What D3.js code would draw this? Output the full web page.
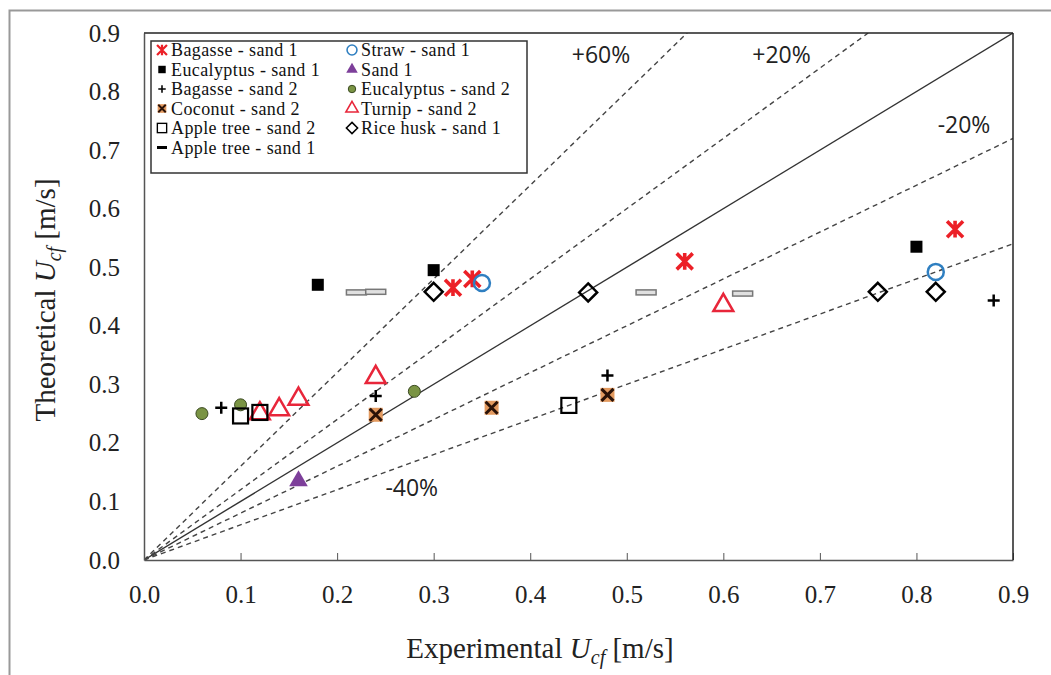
<!DOCTYPE html>
<html>
<head>
<meta charset="utf-8">
<script src="https://cdn.jsdelivr.net/npm/d3@7"></script>
<style>
  body { margin: 0; background: #fff; }
</style>
</head>
<body>
<div id="chart"></div>
<script>
// Data
const xTicks = [0, 0.1, 0.2, 0.3, 0.4, 0.5, 0.6, 0.7, 0.8, 0.9];
const yTicks = [0, 0.1, 0.2, 0.3, 0.4, 0.5, 0.6, 0.7, 0.8, 0.9];

const bagasseSand1 = [[0.32, 0.465], [0.34, 0.48], [0.56, 0.51], [0.84, 0.565]];
const strawSand1 = [[0.35, 0.473], [0.82, 0.492]];
const eucalyptusSand1 = [[0.18, 0.47], [0.30, 0.495], [0.80, 0.535]];
const sand1 = [[0.16, 0.135]];
const bagasseSand2 = [[0.08, 0.26], [0.24, 0.28], [0.48, 0.315], [0.88, 0.443]];
const eucalyptusSand2 = [[0.06, 0.25], [0.10, 0.265], [0.28, 0.288]];
const coconutSand2 = [[0.24, 0.248], [0.36, 0.26], [0.48, 0.282]];
const turnipSand2 = [[0.12, 0.25], [0.14, 0.257], [0.16, 0.275], [0.24, 0.312], [0.60, 0.435]];
const appleSand2 = [[0.10, 0.246], [0.12, 0.252], [0.44, 0.264]];
const riceHuskSand1 = [[0.30, 0.458], [0.46, 0.457], [0.76, 0.458], [0.82, 0.458]];
const appleSand1 = [[0.22, 0.457], [0.24, 0.458], [0.52, 0.457], [0.62, 0.455]];

// deviation lines: slope and label
const refSlopes = [1.6, 1.2, 1.0, 0.8, 0.6];
const refLabels = [
  { text: "+60%", x: 0.443, y: 0.848 },
  { text: "+20%", x: 0.63, y: 0.848 },
  { text: "-20%", x: 0.822, y: 0.73 },
  { text: "-40%", x: 0.25, y: 0.11 }
];

const series = [
  { name: "Bagasse - sand 1", data: bagasseSand1, type: "star" },
  { name: "Straw - sand 1", data: strawSand1, type: "circleOpen" },
  { name: "Eucalyptus - sand 1", data: eucalyptusSand1, type: "squareFill" },
  { name: "Sand 1", data: sand1, type: "triFill" },
  { name: "Bagasse - sand 2", data: bagasseSand2, type: "plus" },
  { name: "Eucalyptus - sand 2", data: eucalyptusSand2, type: "circleGreen" },
  { name: "Coconut - sand 2", data: coconutSand2, type: "coconut" },
  { name: "Turnip - sand 2", data: turnipSand2, type: "triOpen" },
  { name: "Apple tree - sand 2", data: appleSand2, type: "squareOpen" },
  { name: "Rice husk - sand 1", data: riceHuskSand1, type: "diamond" },
  { name: "Apple tree - sand 1", data: appleSand1, type: "dash" }
];

const serif = "'Liberation Serif', 'Times New Roman', serif";
const sans = "'Open Sans', 'DejaVu Sans', sans-serif";

const width = 1051, height = 675;
const margin = { top: 33, right: 38, bottom: 115, left: 144 };
const innerW = width - margin.left - margin.right;
const innerH = height - margin.top - margin.bottom;

const svg = d3.select("#chart").append("svg")
  .attr("width", width)
  .attr("height", height);

// outer frame
svg.append("rect")
  .attr("x", 9.5).attr("y", 10.5)
  .attr("width", 1100).attr("height", 800)
  .attr("fill", "none")
  .attr("stroke", "#999")
  .attr("stroke-width", 2);

const g = svg.append("g")
  .attr("transform", `translate(${margin.left}, ${margin.top})`);

const x = d3.scaleLinear().domain([0, 0.9]).range([0, innerW]);
const y = d3.scaleLinear().domain([0, 0.9]).range([innerH, 0]);

g.append("clipPath").attr("id", "clip")
  .append("rect").attr("width", innerW).attr("height", innerH);

// reference lines
const lines = g.append("g").attr("clip-path", "url(#clip)");
refSlopes.forEach(s => {
  const xEnd = Math.min(0.9, 0.9 / s);
  lines.append("line")
    .attr("x1", x(0)).attr("y1", y(0))
    .attr("x2", x(xEnd)).attr("y2", y(xEnd * s))
    .attr("stroke", s === 1 ? "#333" : "#444")
    .attr("stroke-width", 1.4)
    .attr("stroke-dasharray", s === 1 ? null : "5,4");
});

refLabels.forEach(l => {
  g.append("text")
    .attr("x", x(l.x)).attr("y", y(l.y))
    .style("font-family", sans)
    .style("font-size", "23px")
    .attr("fill", "#222")
    .text(l.text);
});

// X axis
const xAxis = g.append("g")
  .attr("transform", `translate(0, ${innerH})`)
  .call(d3.axisBottom(x).tickValues(xTicks).tickFormat(d3.format(".1f")).tickSizeInner(-7).tickSizeOuter(0));
xAxis.selectAll("text")
  .attr("y", 0)
  .attr("dy", "1.7em")
  .style("font-family", serif)
  .style("font-size", "25px")
  .style("fill", "#222");

// Y axis
const yAxis = g.append("g")
  .call(d3.axisLeft(y).tickValues(yTicks).tickFormat(d3.format(".1f")).tickSize(0));
yAxis.selectAll("text")
  .attr("x", -24)
  .style("font-family", serif)
  .style("font-size", "25px")
  .style("fill", "#222");

g.selectAll(".domain").attr("stroke", "#555").attr("stroke-width", 1.5);
g.selectAll(".tick line").attr("stroke", "#555");

// top and right box lines
g.append("line").attr("x1", 0).attr("x2", innerW).attr("y1", 0).attr("y2", 0)
  .attr("stroke", "#222").attr("stroke-width", 1.5);
g.append("line").attr("x1", innerW).attr("x2", innerW).attr("y1", 0).attr("y2", innerH)
  .attr("stroke", "#222").attr("stroke-width", 1.5);

// markers
function drawMarker(sel, type, scale) {
  const k = scale || 1;
  if (type === "star") {
    const r = 8 * k;
    sel.append("path")
      .attr("d", `M${-r},${-r}L${r},${r}M${-r},${r}L${r},${-r}M0,${-r * 1.05}V${r * 1.05}`)
      .attr("stroke", "#ec2027").attr("stroke-width", 3.6 * k).attr("fill", "none");
  } else if (type === "circleOpen") {
    sel.append("circle").attr("r", 8 * k)
      .attr("fill", "none").attr("stroke", "#2f7fc1").attr("stroke-width", 2.5 * k);
  } else if (type === "squareFill") {
    const s = 12 * k;
    sel.append("rect").attr("x", -s / 2).attr("y", -s / 2).attr("width", s).attr("height", s)
      .attr("fill", "#000");
  } else if (type === "triFill") {
    sel.append("path").attr("d", d3.symbol(d3.symbolTriangle, 150 * k * k))
      .attr("fill", "#7d3f9a");
  } else if (type === "plus") {
    const r = 6 * k;
    sel.append("path").attr("d", `M${-r},0H${r}M0,${-r}V${r}`)
      .attr("stroke", "#000").attr("stroke-width", 2.5 * k);
  } else if (type === "circleGreen") {
    sel.append("circle").attr("r", 6 * k)
      .attr("fill", "#7a9444").attr("stroke", "#3b4a22").attr("stroke-width", 1);
  } else if (type === "coconut") {
    const s = 14 * k, r = 6 * k;
    sel.append("rect").attr("x", -s / 2).attr("y", -s / 2).attr("width", s).attr("height", s)
      .attr("fill", "#e39a5f");
    sel.append("path").attr("d", `M${-r},${-r}L${r},${r}M${-r},${r}L${r},${-r}`)
      .attr("stroke", "#2a1208").attr("stroke-width", 3 * k);
  } else if (type === "triOpen") {
    sel.append("path").attr("d", d3.symbol(d3.symbolTriangle, 170 * k * k))
      .attr("fill", "none").attr("stroke", "#e8263a").attr("stroke-width", 2.5 * k);
  } else if (type === "squareOpen") {
    const s = 15 * k;
    sel.append("rect").attr("x", -s / 2).attr("y", -s / 2).attr("width", s).attr("height", s)
      .attr("fill", "none").attr("stroke", "#000").attr("stroke-width", 2.2 * k);
  } else if (type === "diamond") {
    const r = 9 * k;
    sel.append("path").attr("d", `M0,${-r}L${r},0L0,${r}L${-r},0Z`)
      .attr("fill", "none").attr("stroke", "#000").attr("stroke-width", 2.5 * k);
  } else if (type === "dash") {
    if (k < 1) {
      sel.append("rect").attr("x", -5).attr("y", -1.5).attr("width", 10).attr("height", 3)
        .attr("fill", "#000");
    } else {
      sel.append("rect").attr("x", -10).attr("y", -2.5).attr("width", 20).attr("height", 5)
        .attr("fill", "#e0e0e0").attr("stroke", "#777").attr("stroke-width", 1.5);
    }
  }
}

series.forEach(s => {
  g.append("g").selectAll("g")
    .data(s.data)
    .join("g")
    .attr("transform", d => `translate(${x(d[0])}, ${y(d[1])})`)
    .each(function () { drawMarker(d3.select(this), s.type, 1); });
});

// legend
const legend = svg.append("g").attr("transform", "translate(151, 41)");
legend.append("rect")
  .attr("width", 376).attr("height", 132)
  .attr("fill", "#fff").attr("stroke", "#333").attr("stroke-width", 1.5);

series.forEach((s, i) => {
  const col = i % 2, row = Math.floor(i / 2);
  const item = legend.append("g")
    .attr("transform", `translate(${col === 0 ? 11 : 201}, ${9 + row * 19.5})`);
  const m = item.append("g");
  drawMarker(m, s.type, 0.62);
  item.append("text")
    .attr("x", 9).attr("y", 6)
    .style("font-family", serif)
    .style("font-size", "18px")
    .style("letter-spacing", "0.4px")
    .attr("fill", "#111")
    .text(s.name);
});

// axis titles
const xt = svg.append("text")
  .attr("x", 540).attr("y", 658)
  .attr("text-anchor", "middle")
  .style("font-family", serif)
  .style("font-size", "29px")
  .attr("fill", "#222");
xt.append("tspan").text("Experimental ");
xt.append("tspan").attr("font-style", "italic").text("U");
xt.append("tspan").attr("font-style", "italic").style("font-size", "20px").attr("dy", 6).text("cf");
xt.append("tspan").attr("dy", -6).text(" [m/s]");

const yt = svg.append("text")
  .attr("transform", "translate(55, 300) rotate(-90)")
  .attr("text-anchor", "middle")
  .style("font-family", serif)
  .style("font-size", "29px")
  .attr("fill", "#222");
yt.append("tspan").text("Theoretical ");
yt.append("tspan").attr("font-style", "italic").text("U");
yt.append("tspan").attr("font-style", "italic").style("font-size", "20px").attr("dy", 6).text("cf");
yt.append("tspan").attr("dy", -6).text(" [m/s]");
</script>
</body>
</html>
